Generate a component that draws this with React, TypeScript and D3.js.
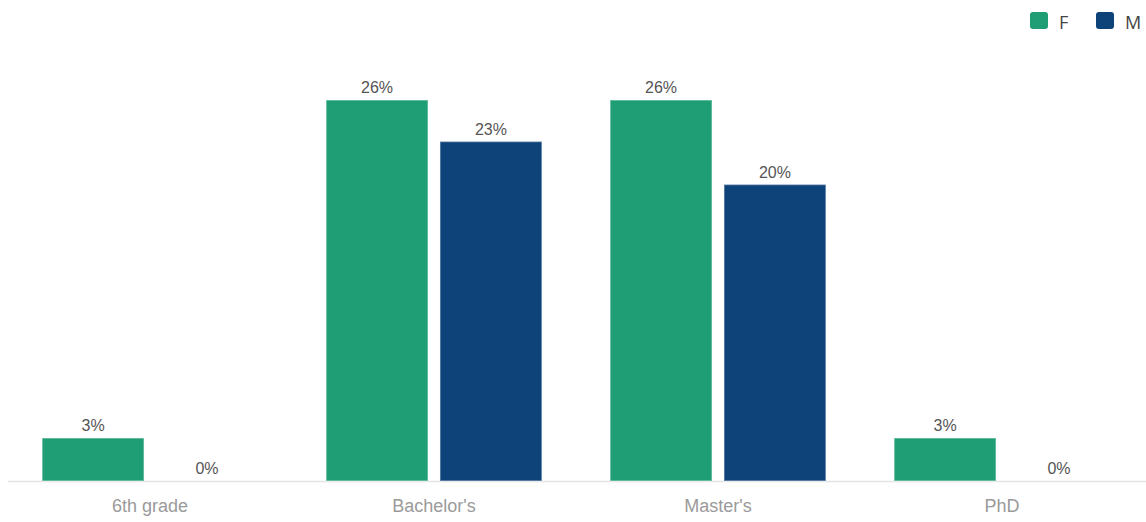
import React from "react";
import * as d3 from "d3";

const categories = ["6th grade", "Bachelor's", "Master's", "PhD"];
const seriesNames = ["F", "M"];
const valuesF = [2.9, 25.7, 25.7, 2.9];
const valuesM = [0, 22.9, 20.0, 0];
const colors = ["#1f9e75", "#0e4379"];

const W = 1146;
const H = 522;
const baseY = 481;

export default function App() {
  const x0 = d3.scaleBand<string>().domain(categories).range([8, 1144]).paddingInner(0.24).paddingOuter(0.12);
  const x1 = d3.scaleBand<string>().domain(seriesNames).range([0, x0.bandwidth()]).paddingInner(0.105).paddingOuter(0);
  const y = d3.scaleLinear().domain([0, 25.7]).range([baseY, 100]);
  const fmt = (v: number) => d3.format(".0f")(v) + "%";
  const series = [valuesF, valuesM];

  return (
    <svg width={W} height={H} style={{ position: "absolute", left: 0, top: 0, background: "#fff" }}
      fontFamily="'Liberation Sans', Arial, sans-serif">
      <line x1={8} x2={W} y1={baseY + 0.5} y2={baseY + 0.5} stroke="#e3e3e3" strokeWidth={1.5} />
      {categories.map((c, i) => (
        <g key={c} transform={`translate(${x0(c)},0)`}>
          {seriesNames.map((s, j) => {
            const v = series[j][i];
            const bx = x1(s)!;
            const top = y(v);
            return (
              <g key={s}>
                {v > 0 && (
                  <rect x={bx} y={top} width={x1.bandwidth()} height={baseY - top}
                    fill={colors[j]} stroke="rgba(255,255,255,0.4)" strokeWidth={1.5} />
                )}
                <text x={bx + x1.bandwidth() / 2} y={top - 7} textAnchor="middle" fontSize={16} fill="#555">
                  {fmt(v)}
                </text>
              </g>
            );
          })}
          <text x={x0.bandwidth() / 2} y={512} textAnchor="middle" fontSize={18} fill="#9a9a9a">
            {c}
          </text>
        </g>
      ))}
      {seriesNames.map((s, j) => (
        <g key={s} transform={`translate(${1030 + j * 66},12)`}>
          <rect x={0} y={0} width={18} height={17} rx={3} fill={colors[j]} />
          <text x={29} y={17} fontSize={18} fill="#444" fontFamily="'Open Sans', sans-serif">{s}</text>
        </g>
      ))}
    </svg>
  );
}
